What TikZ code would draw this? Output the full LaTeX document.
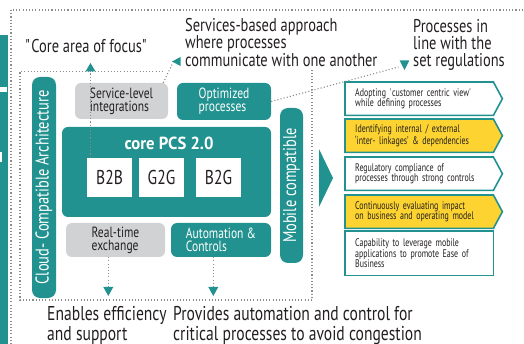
\documentclass[tikz,border=0pt]{standalone}
\usepackage{fontspec}
\setmainfont{PT Sans}[FakeStretch=0.78, BoldFeatures={FakeStretch=0.95}]
\newfontfamily\narrowfont{PT Sans}[FakeStretch=0.72]
\usetikzlibrary{calc}
\definecolor{pcsteal}{RGB}{33,146,143}
\definecolor{pcsgold}{RGB}{252,211,49}
\definecolor{pcsgray}{RGB}{209,210,212}
\definecolor{pcsink}{RGB}{35,31,32}
\definecolor{pcsdots}{RGB}{140,140,140}
% straight quote glyphs, bypassing the TeX ligature mapping
\newcommand\sq{\XeTeXglyph\XeTeXcharglyph"0027\relax}
\newcommand\dq{\XeTeXglyph\XeTeXcharglyph"0022\relax}
\pgfdeclarelayer{back}
\pgfsetlayers{back,main}
\begin{document}
\begin{tikzpicture}[x=1pt,y=-1pt,
  every node/.style={inner sep=0pt, text=pcsink},
  tealbox/.style={fill=pcsteal, rounded corners=6pt, text=white, align=left},
  graybox/.style={fill=pcsgray, rounded corners=6pt, align=left},
  labelfont/.style={font=\fontsize{14.8}{13.2}\selectfont},
  codebox/.style={fill=white, minimum width=45pt, minimum height=39pt, font=\fontsize{20}{20}\selectfont},
  sidebar/.style={fill=pcsteal, rounded corners=8pt, text=white, rotate=90, font=\fontsize{18.5}{18}\selectfont},
  note/.style={anchor=north west, text width=138pt, minimum height=33pt, align=left, font=\narrowfont\fontsize{11}{10.7}\selectfont},
  frame/.style={draw=pcsteal, line width=1.6pt, line join=miter},
  annot/.style={anchor=base west, align=left, font=\fontsize{18.5}{16.7}\selectfont},
  annotlow/.style={anchor=base west, align=left, font=\fontsize{20}{20}\selectfont},
  dotline/.style={draw=pcsdots, line width=1.1pt, dash pattern=on 1.1pt off 2.1pt},
  marker/.style={fill=pcsteal},
]
\useasboundingbox (0,0) rectangle (524,344);

% cropped strip at the left edge
\fill[pcsteal] (0,35) rectangle (8,344);
\fill[white] (0,86.7) rectangle (7.3,91.7);
\fill[white] (0,151.7) rectangle (2,161.7);

% dotted frames
\draw[dotline] (11,344) -- (11,10) -- (524,10);
\draw[dotline] (163,71.5) -- (20,71.5) -- (20,300) -- (312,300) -- (312,70);

% side bars
\node[sidebar, minimum width=221pt, minimum height=24pt] (cloud) at (44,187.5) {Cloud- Compatible Architecture};
\node[sidebar, minimum width=155pt, minimum height=23pt] (mobile) at (291.5,185.5) {Mobile compatible};

% upper boxes
\node[graybox, labelfont, minimum width=93pt, minimum height=36pt] (svc) at (121.5,101) {Service-level\\integrations};
\node[tealbox, labelfont, minimum width=94pt, minimum height=37pt] (opt) at (224,101.5) {Optimized\\processes};

% core block
\node[tealbox, minimum width=209pt, minimum height=90pt] (core) at (166.5,172) {};
\node[text=white, font=\bfseries\fontsize{17.5}{17.5}\selectfont, anchor=base] (coretitle) at (169,150) {core PCS 2.0};
\node[codebox] (b2b) at (109.5,177.5) {B2B};
\node[codebox] (g2g) at (161.5,177.5) {G2G};
\node[codebox] (b2g) at (218.5,177.5) {B2G};

% lower boxes
\node[graybox, labelfont, minimum width=99pt, minimum height=34pt] (rt) at (115.5,240) {Real-time\\exchange};
\node[tealbox, labelfont, minimum width=100pt, minimum height=34pt] (auto) at (221,240) {Automation \&\\Controls};

% big arrow towards the list
\fill[pcsteal] (319,149) -- (333,178) -- (319,207) -- cycle;

% list of outcomes
\node[note] (n1) at (355,82) {Adopting \sq customer centric view\sq\\while defining processes};
\node[note] (n2) at (355,119) {Identifying internal / external\\‘inter- linkages’ \& dependencies};
\node[note] (n3) at (355,157) {Regulatory compliance of\\processes through strong controls};
\node[note] (n4) at (355,195) {Continuously evaluating impact\\on business and operating model};
\node[note, minimum height=44pt] (n5) at (355,231) {Capability to leverage mobile\\applications to promote Ease of\\Business};
\begin{pgfonlayer}{back}
  \foreach \n/\c in {n1/white,n2/pcsgold,n3/white,n4/pcsgold}
    \filldraw[frame, fill=\c] ($(\n.north west)+(-10,0)$) -- (\n.north east)
      -- ($(\n.east)+(9,0)$) -- (\n.south east) -- ($(\n.south west)+(-10,0)$) -- cycle;
  \filldraw[frame, fill=white] ($(n5.north west)+(-10,0)$) rectangle (n5.south east);
\end{pgfonlayer}

% annotations (anchored on the baseline of their last line)
\node[annot] (focustext) at (25,53) {\dq Core area of focus\dq};
\node[annot] (svctext) at (185,66.4) {Services-based approach\\where processes\\communicate with one another};
\node[annot] (regtext) at (413,66.4) {Processes in\\line with the\\set regulations};
\node[annotlow] (efftext) at (47,340) {Enables efficiency\\and support};
\node[annotlow] (autotext) at (173,340) {Provides automation and control for\\critical processes to avoid congestion};

% dotted pointers with their markers
\coordinate (focustip) at (90.5,63);
\draw[dotline] (focustip |- b2b.north) -- ($(focustip)+(0,8)$);
\fill[marker] (focustip) -- ++(5,8.5) -- ++(-10,0) -- cycle;

\coordinate (svctip) at (172,61.5);
\draw[dotline] ($(svc.north east)+(-5,0)$) -- ($(svctip)+(0,3)$);
\fill[marker] (svctip) -- ++(8.5,-4.5) -- ++(0,9) -- cycle;

\coordinate (regtip) at (404.5,70);
\draw[dotline] (opt.east) -- ($(regtip)+(-6,-3)$);
\fill[marker] (regtip) -- ++(-4.8,-9.5) -- ++(9.6,0) -- cycle;

\coordinate (rttip) at (108.3,296);
\draw[dotline] (rt.south -| rttip) -- ($(rttip)+(0,-9)$);
\fill[marker] (rttip) -- ++(-5,-9) -- ++(10,0) -- cycle;

\coordinate (autotip) at (213.3,296);
\draw[dotline] (auto.south -| autotip) -- ($(autotip)+(0,-9)$);
\fill[marker] (autotip) -- ++(-5,-9) -- ++(10,0) -- cycle;
\end{tikzpicture}
\end{document}
